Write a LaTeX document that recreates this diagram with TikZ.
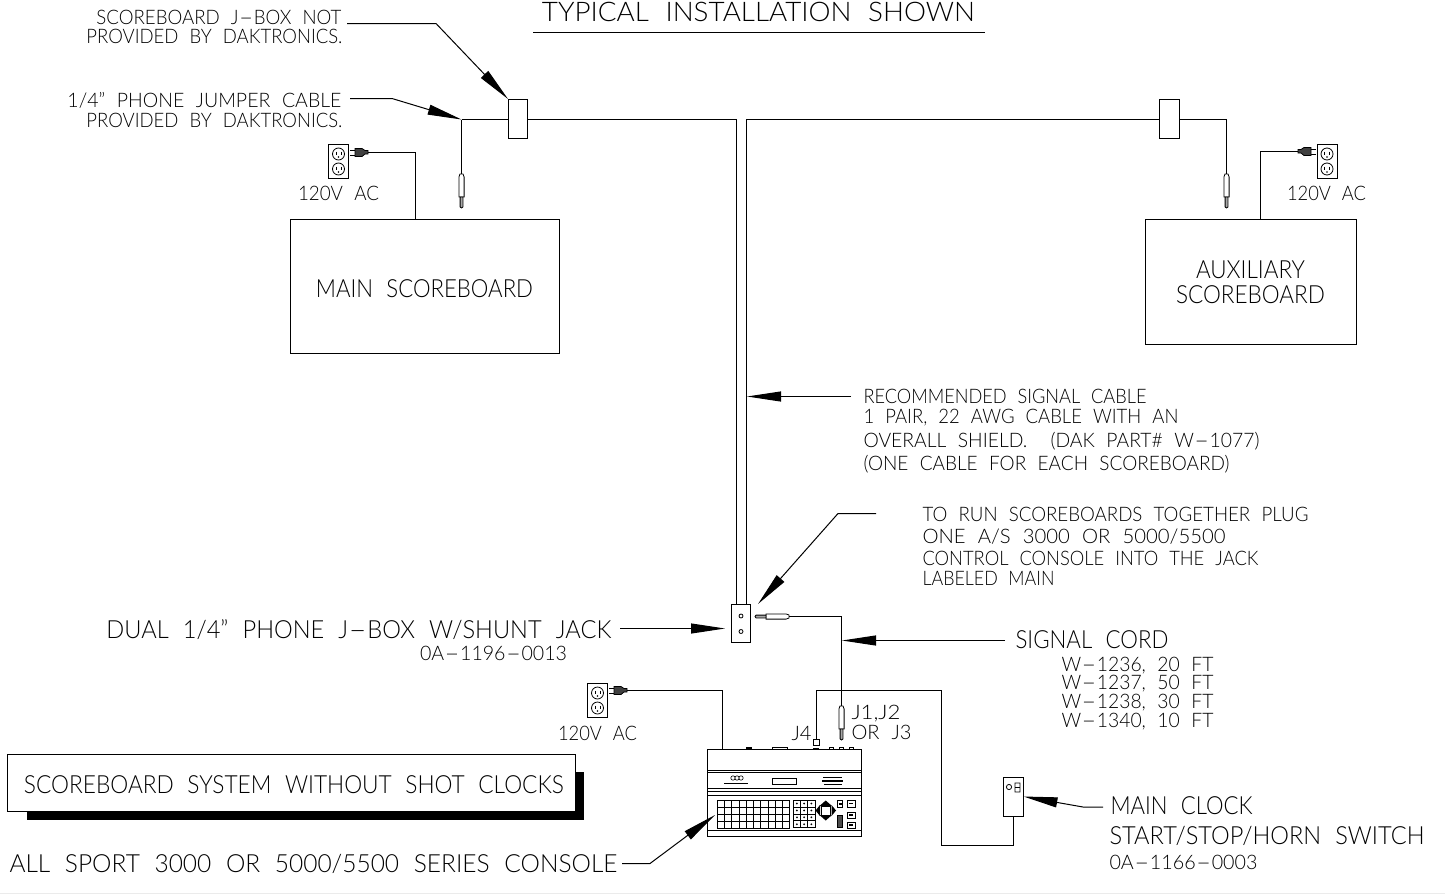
\documentclass[tikz,border=0pt]{standalone}
\usepackage{fontspec}
\usepackage{graphicx}
\usetikzlibrary{arrows.meta}
\setmainfont[UprightFont=* Light,WordSpace=2.2]{Lato}

% text squeezed to a given width, wide drawing-office hyphen
\newcommand{\wtxt}[2]{\resizebox{#1pt}{\height}{#2}}
\newcommand{\hy}{\scalebox{2.2}[1]{-}}

\tikzset{
    txttitle/.style={inner sep=0pt, font=\fontsize{27}{27}\selectfont},
    txtbig/.style={inner sep=0pt, font=\fontsize{25}{25}\selectfont},
    txtsmall/.style={inner sep=0pt, font=\fontsize{20}{20}\selectfont},
    box/.style={draw, inner sep=0pt, fill=white},
    leader/.style={-{Triangle[length=34pt,width=10pt]}, line width=1pt},
    outlet/.pic={
        \draw[line width=0.9pt] (-10,-17) rectangle (10,17);
        \foreach \cy in {-7.5,7.5} {
            \draw[line width=0.8pt] (0,\cy) circle (6);
            \draw[line width=0.8pt] (-2.5,\cy-2.5) -- (-2.5,\cy+1) (2.5,\cy-2.5) -- (2.5,\cy+1);
            \fill (0,\cy+3) circle (0.9);
        }
    },
    powerplug/.pic={
        \draw[line width=0.8pt] (-18,-2.5) -- (-13,-2.5) (-18,2.5) -- (-13,2.5);
        \draw[line width=0.8pt, fill=black!75] (-13,-4) -- (-6,-4) -- (-3,-2) -- (0,-2) -- (0,1.5) -- (-3,1.5) -- (-6,4) -- (-13,4) -- cycle;
    },
    phoneplug/.pic={
        \draw[line width=0.8pt] (-2.6,23) -- (-2.6,3) -- (-1.5,0) -- (1.5,0) -- (2.6,3) -- (2.6,23) -- cycle;
        \draw[line width=0.8pt, fill=black!35] (-1.4,23) -- (-1.4,33) -- (0,34) -- (1.4,33) -- (1.4,23) -- cycle;
    },
}

\begin{document}
\begin{tikzpicture}[x=1pt, y=-1pt, line width=1pt]
    \useasboundingbox (0,0) rectangle (1445,894);
    \fill[black!8] (0,892.5) rectangle (1445,894);

    % title
    \node[txttitle, anchor=base] (title) at (758.5,21) {\wtxt{433}{TYPICAL INSTALLATION SHOWN}};
    \coordinate (titleL) at (533,32.5);
    \coordinate (titleR) at (985,32.5);
    \draw (titleL) -- (titleR);

    % scoreboards
    \node[box, minimum width=269pt, minimum height=134pt] (mainboard) at (425,286.5) {};
    \node[txtbig, anchor=base] (mainname) at (424.5,297) {\wtxt{217}{MAIN SCOREBOARD}};
    \node[box, minimum width=211pt, minimum height=125pt] (auxboard) at (1251,282) {};
    \node[txtbig, anchor=base] (auxname1) at (1250.5,278) {\wtxt{109}{AUXILIARY}};
    \node[txtbig, anchor=base] (auxname2) at (1250.5,303) {\wtxt{149}{SCOREBOARD}};

    % J-boxes
    \node[box, minimum width=19pt, minimum height=39pt] (jboxmain) at (518,119) {};
    \node[box, minimum width=20pt, minimum height=39pt] (jboxaux) at (1169.5,119) {};
    \node[box, minimum width=19pt, minimum height=38pt] (jboxdual) at (741,623.5) {};
    \node[box, minimum width=20pt, minimum height=39pt] (clockswitch) at (1013.5,797) {};
    \draw[line width=0.8pt] (741,616) circle (2) (741,631.5) circle (2);
    \draw[line width=0.8pt] (1009,787) circle (2.6) (1015,783) rectangle (1020,792) (1015,787.5) -- (1020,787.5);

    % signal cable
    \coordinate (teemain) at (461.5,119.5);
    \coordinate (plugmain) at (461.5,174);
    \coordinate (plugaux) at (1226.5,174);
    \coordinate (cornerA) at (736.5,119.5);
    \coordinate (cornerB) at (746.5,119.5);
    \coordinate (corneraux) at (1226.5,119.5);
    \draw (teemain) -- (jboxmain.west |- teemain);
    \draw (jboxmain.east |- teemain) -- (cornerA) -- (cornerA |- jboxdual.north);
    \draw (jboxaux.west |- teemain) -- (cornerB) -- (cornerB |- jboxdual.north);
    \draw (jboxaux.east |- teemain) -- (corneraux) -- (plugaux);
    \draw (teemain) -- (plugmain);
    \pic at (plugmain) {phoneplug};
    \pic at (plugaux) {phoneplug};

    % power
    \pic (outletmain) at (338.5,161.5) {outlet};
    \pic (outletaux) at (1327,161.5) {outlet};
    \pic (outletcon) at (597.5,700.5) {outlet};
    \coordinate (cordmain) at (368,152.5);
    \coordinate (cordaux) at (1298,151.5);
    \coordinate (cordcon) at (627,690.5);
    \pic at (cordmain) {powerplug};
    \pic[xscale=-1] at (cordaux) {powerplug};
    \pic at (cordcon) {powerplug};
    \draw (cordmain) -- (415.5,152.5) -- (415.5,219.5);
    \draw (cordaux) -- (1260.5,151.5) -- (1260.5,219.5);
    \draw (cordcon) -- (722.5,690.5) -- (722.5,749.5);
    \node[txtsmall, anchor=base] (acmain) at (338.5,200) {\wtxt{81}{120V AC}};
    \node[txtsmall, anchor=base] (acaux) at (1326.5,200) {\wtxt{79}{120V AC}};
    \node[txtsmall, anchor=base] (accon) at (597.5,740) {\wtxt{79}{120V AC}};

    % console
    \node[box, minimum width=154pt, minimum height=87pt] (console) at (784.5,793) {};
    \foreach \ly in {770.5,772.5,788.5,791.5,795.5,830.5}
        \draw[line width=0.8pt] (707.5,\ly) -- (861.5,\ly);
    \draw[line width=0.8pt] (772.5,778.5) rectangle (796.5,784.5);
    \draw[line width=0.8pt] (772,749) -- (772,747) -- (787,747) -- (787,749);
    \draw[line width=1.5pt] (746,748) -- (752,748) (813,748.5) -- (819,748.5);
    \foreach \bx in {831,841,851}
        \draw[line width=0.8pt] (\bx-2,749) -- (\bx-2,747) -- (\bx+2,747) -- (\bx+2,749);
    % logos
    \draw[line width=0.6pt] (733,778) circle (2.2) (737,778) circle (2.2) (741,778) circle (2.2);
    \draw[line width=1.5pt] (724,783.5) -- (748,783.5);
    \draw[line width=1.8pt] (823,777.5) -- (842,777.5) (822,781) -- (843,781);
    \draw[line width=1.2pt] (824,784.5) -- (842,784.5);
    % keyboard
    \foreach \kx in {0,...,10}
        \draw[line width=0.8pt] (717.3+\kx*7.24,800) -- (717.3+\kx*7.24,828.3);
    \foreach \ky in {0,...,4}
        \draw[line width=0.8pt] (717.3,800+\ky*7.07) -- (789.7,800+\ky*7.07);
    \foreach \kx in {0,...,3}
        \draw[line width=0.7pt] (793.3+\kx*7.23,800) -- (793.3+\kx*7.23,827.7);
    \foreach \ky in {0,...,4}
        \draw[line width=0.7pt] (793.3,800+\ky*6.92) -- (815,800+\ky*6.92);
    \foreach \kx in {0,...,2}
        \foreach \ky in {0,...,3}
            \fill (796.9+\kx*7.23,803.5+\ky*6.92) circle (1);
    % arrow pad and buttons
    \fill (825.7,800.5) -- (832,806) -- (819.4,806) -- cycle;
    \fill (825.7,820.5) -- (832,815) -- (819.4,815) -- cycle;
    \fill (815.5,810.5) -- (820,805) -- (820,816) -- cycle;
    \fill (836,810.5) -- (831.5,805) -- (831.5,816) -- cycle;
    \draw[line width=0.8pt, fill=white] (821.5,806.5) rectangle (830,815);
    \draw[line width=0.8pt] (837.5,800.5) rectangle (842.5,807);
    \draw[line width=0.8pt] (847,800.5) rectangle (855,807);
    \draw[line width=0.8pt] (847,812) rectangle (855,818);
    \draw[line width=0.8pt] (847,822) rectangle (855,828);
    \draw[line width=0.8pt, fill=black!70] (837.5,815) rectangle (842.5,827.5);
    \draw[line width=1.2pt] (838.5,804) -- (841.5,804) (849,803.5) -- (853,803.5) (849,815) -- (853,815) (849,825) -- (853,825);

    % signal cord and switch
    \coordinate (jackcorner) at (841.5,616.5);
    \coordinate (plugconsole) at (841.5,706);
    \coordinate (jacktip) at (789,616.5);
    \coordinate (j4top) at (816.5,690.5);
    \node[box, minimum width=6pt, minimum height=6pt] (jfour) at (816.5,742.5) {};
    \coordinate (swA) at (941.5,690.5);
    \coordinate (swB) at (941.5,845.5);
    \coordinate (swC) at (1013.5,845.5);
    \draw (jacktip) -- (jackcorner) -- (plugconsole);
    \pic[rotate=-90] at (jacktip) {phoneplug};
    \pic at (plugconsole) {phoneplug};
    \draw (jfour.north) -- (j4top) -- (swA) -- (swB) -- (swC) -- (clockswitch.south);
    \node[txtsmall, anchor=base west] (jone) at (851,719) {\wtxt{49}{J1,J2}};
    \node[txtsmall, anchor=base west] (jthree) at (851,739) {\wtxt{60}{OR J3}};
    \node[txtsmall, anchor=base west] (jfourname) at (791,740) {\wtxt{20}{J4}};

    % labels top left
    \node[txtsmall, anchor=base east] (noteA1) at (342,24) {\wtxt{245}{SCOREBOARD J\hy BOX NOT}};
    \node[txtsmall, anchor=base east] (noteA2) at (343,44) {\wtxt{256}{PROVIDED BY DAKTRONICS.}};
    \node[txtsmall, anchor=base east] (noteB1) at (342,107) {\wtxt{274}{1/4" PHONE JUMPER CABLE}};
    \node[txtsmall, anchor=base east] (noteB2) at (343,127) {\wtxt{256}{PROVIDED BY DAKTRONICS.}};
    \coordinate (noteAend) at (347,23.5);
    \coordinate (noteAbend) at (436,23.5);
    \coordinate (noteBend) at (350,98.5);
    \coordinate (noteBbend) at (392,98.5);
    \draw[leader] (noteAend) -- (noteAbend) -- (jboxmain.north west);
    \draw[leader] (noteBend) -- (noteBbend) -- (teemain);

    % recommended cable
    \node[txtsmall, anchor=base west] (cable1) at (863,403) {\wtxt{283}{RECOMMENDED SIGNAL CABLE}};
    \node[txtsmall, anchor=base west] (cable2) at (863,423) {\wtxt{315}{1 PAIR, 22 AWG CABLE WITH AN}};
    \node[txtsmall, anchor=base west] (cable3) at (863,447) {\wtxt{396}{OVERALL SHIELD. \ (DAK PART\# W\hy 1077)}};
    \node[txtsmall, anchor=base west] (cable4) at (863,470) {\wtxt{366}{(ONE CABLE FOR EACH SCOREBOARD)}};
    \coordinate (cableend) at (851,396.5);
    \coordinate (cabletip) at (747,396.5);
    \draw[leader] (cableend) -- (cabletip);

    % run together
    \node[txtsmall, anchor=base west] (run1) at (922,521) {\wtxt{386}{TO RUN SCOREBOARDS TOGETHER PLUG}};
    \node[txtsmall, anchor=base west] (run2) at (922,543) {\wtxt{303}{ONE A/S 3000 OR 5000/5500}};
    \node[txtsmall, anchor=base west] (run3) at (922,565) {\wtxt{336}{CONTROL CONSOLE INTO THE JACK}};
    \node[txtsmall, anchor=base west] (run4) at (922,585) {\wtxt{132}{LABELED MAIN}};
    \coordinate (runend) at (876,513.5);
    \coordinate (runbend) at (838,513.5);
    \coordinate (runtip) at (758,604);
    \draw[leader] (runend) -- (runbend) -- (runtip);

    % dual jack
    \node[txtbig, anchor=base east] (dual) at (612,638) {\wtxt{505}{DUAL 1/4" PHONE J\hy BOX W/SHUNT JACK}};
    \node[txtsmall, anchor=base] (dualno) at (493.5,660) {\wtxt{147}{0A\hy 1196\hy 0013}};
    \coordinate (dualend) at (620,628.5);
    \coordinate (dualtip) at (725,628.5);
    \draw[leader] (dualend) -- (dualtip);

    % signal cord
    \node[txtbig, anchor=base west] (cord) at (1015,648) {\wtxt{153}{SIGNAL CORD}};
    \node[txtsmall, anchor=base west] (cordA) at (1061,671) {\wtxt{152}{W\hy 1236, 20 FT}};
    \node[txtsmall, anchor=base west] (cordB) at (1061,689) {\wtxt{152}{W\hy 1237, 50 FT}};
    \node[txtsmall, anchor=base west] (cordC) at (1061,708) {\wtxt{152}{W\hy 1238, 30 FT}};
    \node[txtsmall, anchor=base west] (cordD) at (1061,727) {\wtxt{152}{W\hy 1340, 10 FT}};
    \coordinate (cordend) at (1005,640.5);
    \coordinate (cordtip) at (842,640.5);
    \draw[leader] (cordend) -- (cordtip);

    % main clock
    \node[txtbig, anchor=base west] (clock1) at (1110,814) {\wtxt{142}{MAIN CLOCK}};
    \node[txtbig, anchor=base west] (clock2) at (1109,844) {\wtxt{315}{START/STOP/HORN SWITCH}};
    \node[txtsmall, anchor=base west] (clock3) at (1109,869) {\wtxt{148}{0A\hy 1166\hy 0003}};
    \coordinate (clockend) at (1103,807);
    \coordinate (clockbend) at (1083,807);
    \coordinate (clocktip) at (1023.5,796.5);
    \draw[leader] (clockend) -- (clockbend) -- (clocktip);

    % console label
    \node[txtbig, anchor=base west] (conname) at (9,872) {\wtxt{608}{ALL SPORT 3000 OR 5000/5500 SERIES CONSOLE}};
    \coordinate (conend) at (622,863.5);
    \coordinate (conbend) at (650,863.5);
    \coordinate (contip) at (715,815);
    \draw[leader] (conend) -- (conbend) -- (contip);

    % system title box
    \fill (26.5,805) rectangle (583.5,819.5);
    \fill (560,772) rectangle (583.5,819.5);
    \node[box, minimum width=568pt, minimum height=57pt] (sysbox) at (291.5,783) {};
    \node[txtbig, anchor=base] (sysname) at (294,793) {\wtxt{540}{SCOREBOARD SYSTEM WITHOUT SHOT CLOCKS}};
\end{tikzpicture}
\end{document}
